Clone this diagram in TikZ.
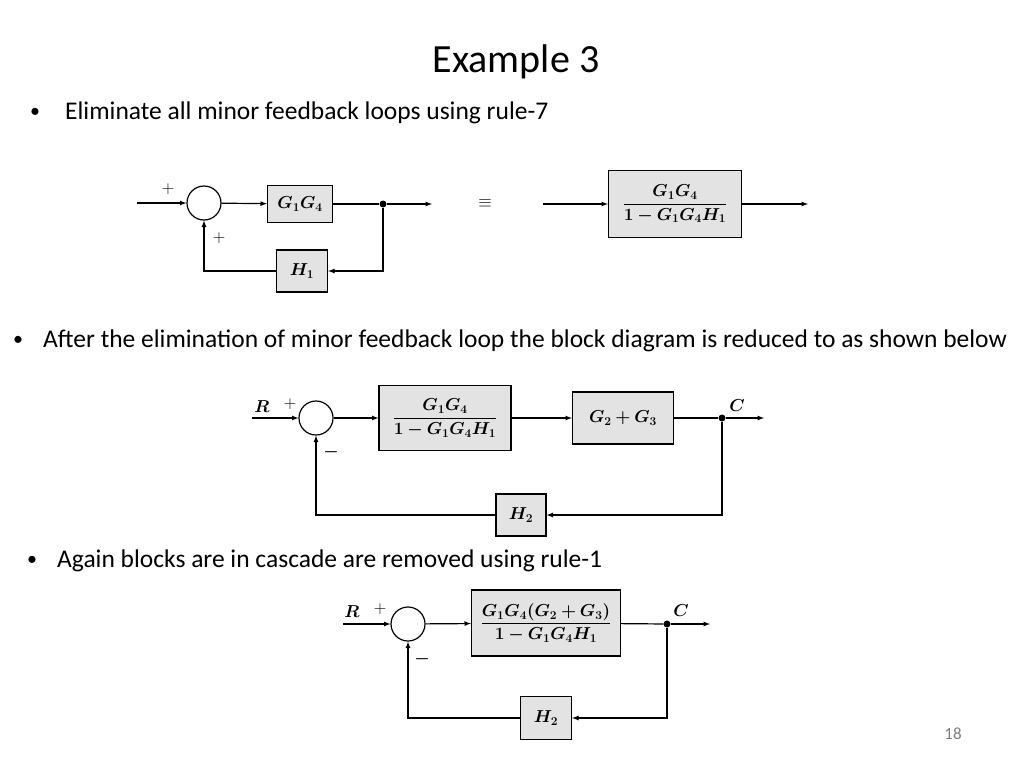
\documentclass[tikz,border=0pt]{standalone}
\usepackage{amsmath,bm}
\usepackage{fontspec}
\setmainfont{Carlito}
\usetikzlibrary{positioning}
\tikzset{
  blk/.style={draw,line width=1.2pt,fill=gray!22,inner sep=0pt,font=\fontsize{18}{20}\selectfont},
  sum/.style={draw,line width=1.2pt,circle,minimum size=34pt,inner sep=0pt},
  sig/.style={line width=1.2pt,-latex},
  ln/.style={line width=1.2pt},
  dot/.style={circle,fill,inner sep=0pt,minimum size=7pt},
  sgn/.style={font=\fontsize{19}{21}\selectfont},
  bul/.style={anchor=west,inner sep=0pt,font=\fontsize{25.5}{30}\selectfont},
  bdot/.style={font=\fontsize{20}{22}\selectfont}
}
\begin{document}
\begin{tikzpicture}[x=1pt,y=-1pt]
  \useasboundingbox (0,0) rectangle (1024,768);
  % text
  \node (title) at (516,62) {\fontsize{40}{45}\selectfont Example 3};
  \node[bdot] (d1b) at (35,113) {\textbullet};
  \node[bul] (b1) at (65,113) {Eliminate all minor feedback loops using rule-7};
  \node[bdot] (d2b) at (18,341) {\textbullet};
  \node[bul] (b2) at (43,341) {After the elimination of minor feedback loop the block diagram is reduced to as shown below};
  \node[bdot] (d3b) at (32,561) {\textbullet};
  \node[bul] (b3) at (57,561) {Again blocks are in cascade are removed using rule-1};
  \node[text=gray] (pg) at (953,734) {\fontsize{17}{20}\selectfont 18};

  % first diagram
  \coordinate (in1) at (137,203);
  \node[sum] (s1) at (204,203) {};
  \node[blk,minimum width=65pt,minimum height=37pt] (g14) at (300,204) {$\bm{G_1G_4}$};
  \node[dot] (d1) at (383,204) {};
  \coordinate (out1) at (432,204);
  \node[blk,minimum width=51pt,minimum height=42pt] (h1) at (302,271) {$\bm{H_1}$};
  \draw[sig] (in1) -- (s1);
  \draw[sig] (s1) -- (g14);
  \draw[ln] (g14) -- (d1);
  \draw[sig] (d1) -- (out1);
  \draw[sig] (d1) |- (h1);
  \draw[sig] (h1) -| (s1);
  \node[sgn] (p1) at (168,189) {$+$};
  \node[sgn] (p2) at (219,238) {$+$};
  \node[sgn] (eq) at (485,203) {$\equiv$};
  \coordinate (in2) at (543,204);
  \node[blk,minimum width=133pt,minimum height=67pt] (cl1) at (675,204) {$\dfrac{\bm{G_1G_4}}{\bm{1-G_1G_4H_1}}$};
  \coordinate (out2) at (808,204);
  \draw[sig] (in2) -- (cl1);
  \draw[sig] (cl1) -- (out2);

  % second diagram
  \coordinate (r2) at (252,418);
  \node[sum] (s2) at (316,418) {};
  \node[blk,minimum width=132pt,minimum height=65pt] (cl2) at (445,418) {$\dfrac{\bm{G_1G_4}}{\bm{1-G_1G_4H_1}}$};
  \node[blk,minimum width=101pt,minimum height=52pt] (g23) at (623,418) {$\bm{G_2+G_3}$};
  \node[dot] (d2) at (722,418) {};
  \coordinate (c2) at (764,418);
  \node[blk,minimum width=50pt,minimum height=42pt] (h2) at (521,515) {$\bm{H_2}$};
  \draw[sig] (r2) -- (s2);
  \draw[sig] (s2) -- (cl2);
  \draw[sig] (cl2) -- (g23);
  \draw[ln] (g23) -- (d2);
  \draw[sig] (d2) -- (c2);
  \draw[sig] (d2) |- (h2);
  \draw[sig] (h2) -| (s2);
  \node[sgn] (rl2) at (262,407) {$\bm{R}$};
  \node[sgn] (p3) at (290,404) {$+$};
  \node[sgn] (m2) at (331,452) {$\bm{-}$};
  \node[sgn] (cl2t) at (737,406) {$\bm{C}$};

  % third diagram
  \coordinate (r3) at (343,624);
  \node[sum] (s3) at (408,624) {};
  \node[blk,minimum width=149pt,minimum height=66pt] (cl3) at (546,623) {$\dfrac{\bm{G_1G_4(G_2+G_3)}}{\bm{1-G_1G_4H_1}}$};
  \node[dot] (d3) at (667,624) {};
  \coordinate (c3) at (710,624);
  \node[blk,minimum width=51pt,minimum height=43pt] (h3) at (546,718) {$\bm{H_2}$};
  \draw[sig] (r3) -- (s3);
  \draw[sig] (s3) -- (cl3);
  \draw[ln] (cl3) -- (d3);
  \draw[sig] (d3) -- (c3);
  \draw[sig] (d3) |- (h3);
  \draw[sig] (h3) -| (s3);
  \node[sgn] (rl3) at (352,612) {$\bm{R}$};
  \node[sgn] (p4) at (380,609) {$+$};
  \node[sgn] (m3) at (422,659) {$\bm{-}$};
  \node[sgn] (cl3t) at (681,611) {$\bm{C}$};
\end{tikzpicture}
\end{document}
